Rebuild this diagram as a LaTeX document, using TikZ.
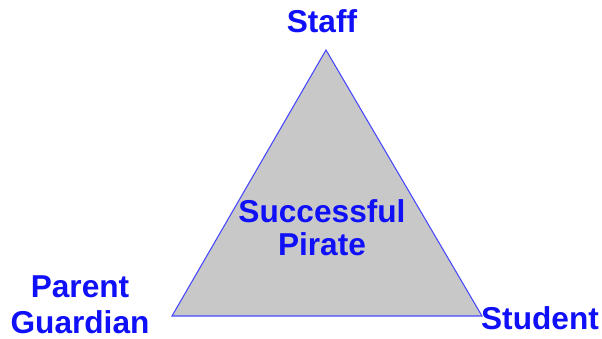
\documentclass[tikz,border=0pt]{standalone}
\usepackage{fontspec}
\setmainfont{Liberation Sans}
\definecolor{ink}{HTML}{1010F8}
\definecolor{edge}{HTML}{4646FF}
\definecolor{panel}{HTML}{C8C8C8}

\begin{document}
\begin{tikzpicture}[
  x=0.03cm, y=0.03cm,
  lbl/.style={text=ink, font=\bfseries\fontsize{27}{28.5}\selectfont, align=center, inner sep=0pt},
  tri/.style={draw=edge, line width=0.9pt, fill=panel, line join=miter},
]
\useasboundingbox (0,0) rectangle (602,339);

\coordinate (top) at (326,289);
\coordinate (left) at (172,23);
\coordinate (right) at (482,23);
\draw[tri] (top) -- (left) -- (right) -- cycle;

\node[lbl] (staff) at (322,318) {Staff};
\node[lbl] (pirate) at (322,111) {Successful\\Pirate};
\node[lbl, font=\bfseries\fontsize{27}{31}\selectfont] (parent) at (80,34) {Parent\\Guardian};
\node[lbl] (student) at (540,21) {Student};
\end{tikzpicture}
\end{document}
